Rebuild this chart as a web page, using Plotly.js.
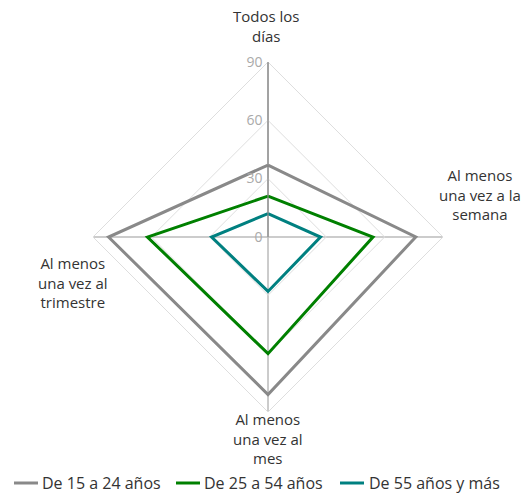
<!DOCTYPE html>
<html>
<head>
<meta charset="utf-8">
<script src="https://cdn.plot.ly/plotly-3.0.1.min.js"></script>
<style>html,body{margin:0;padding:0;background:#fff}</style>
</head>
<body>
<div id="chart" style="width:527px;height:493px"></div>
<script>
const categories = ["Todos los<br>días", "Al menos<br>una vez a la<br>semana", "Al menos<br>una vez al<br>mes", "Al menos<br>una vez al<br>trimestre"];
const seriesNames = ["De 15 a 24 años", "De 25 a 54 años", "De 55 años y más"];
const s15a24 = [37, 76, 81, 82];
const s25a54 = [21, 54, 60, 62];
const s55mas = [12, 27, 28, 29];
const colors = ["#898989", "#008000", "#008080"];
const radialTicks = [0, 30, 60, 90];

const W = 527, H = 493;
const FONT = "'Open Sans', sans-serif";
const allSeries = [s15a24, s25a54, s55mas];
const traces = allSeries.map((vals, i) => ({
  type: "scatterpolar",
  mode: "lines",
  name: seriesNames[i],
  r: vals.concat([vals[0]]),
  theta: categories.concat([categories[0]]),
  line: {color: colors[i], width: 3},
  hoverinfo: "skip",
  showlegend: false
}));

// category label block centers (pixels from top-left)
const labelPos = [[266, 26], [480, 194], [268, 438], [73, 282]];
const annotations = categories.map((c, i) => ({
  text: c, xref: "paper", yref: "paper",
  x: labelPos[i][0] / W, y: 1 - labelPos[i][1] / H,
  xanchor: "center", yanchor: "middle", align: "center", showarrow: false,
  font: {family: FONT, size: 15, color: "#333"}
}));

// manual legend (line sample start x, text start x), at y=483
const legendX = [[14, 40], [176, 202], [340, 367]];
const legendY = 483;
const shapes = [];
seriesNames.forEach((n, i) => {
  shapes.push({type: "line", xref: "paper", yref: "paper",
    x0: legendX[i][0] / W, x1: (legendX[i][0] + 24) / W,
    y0: 1 - legendY / H, y1: 1 - legendY / H,
    line: {color: colors[i], width: 3}});
  annotations.push({text: n, xref: "paper", yref: "paper",
    x: legendX[i][1] / W, y: 1 - legendY / H,
    xanchor: "left", yanchor: "middle", showarrow: false,
    font: {family: FONT, size: 16, color: "#333"}});
});

const layout = {
  width: W, height: H,
  margin: {l: 0, r: 0, t: 0, b: 0},
  paper_bgcolor: "#fff",
  font: {family: FONT, size: 15, color: "#333"},
  showlegend: false,
  annotations: annotations,
  shapes: shapes,
  polar: {
    domain: {x: [0.1765, 0.8406], y: [0.1643, 0.8742]},
    bgcolor: "rgba(0,0,0,0)",
    gridshape: "linear",
    radialaxis: {
      range: [0, 90], tickvals: radialTicks, ticktext: radialTicks.map(String),
      angle: 90, tickangle: 90, side: "counterclockwise",
      showline: true, linecolor: "#888", linewidth: 1.2,
      gridcolor: "#dedede", gridwidth: 1,
      ticks: "", tickfont: {family: FONT, size: 14, color: "#aaa"}
    },
    angularaxis: {
      rotation: 90, direction: "clockwise",
      showline: true, linecolor: "#dedede", linewidth: 1,
      showticklabels: false,
      gridcolor: "#bbbbbb", gridwidth: 1.5,
      ticks: ""
    }
  }
};

Plotly.newPlot("chart", traces, layout, {displayModeBar: false, staticPlot: true});
</script>
</body>
</html>
